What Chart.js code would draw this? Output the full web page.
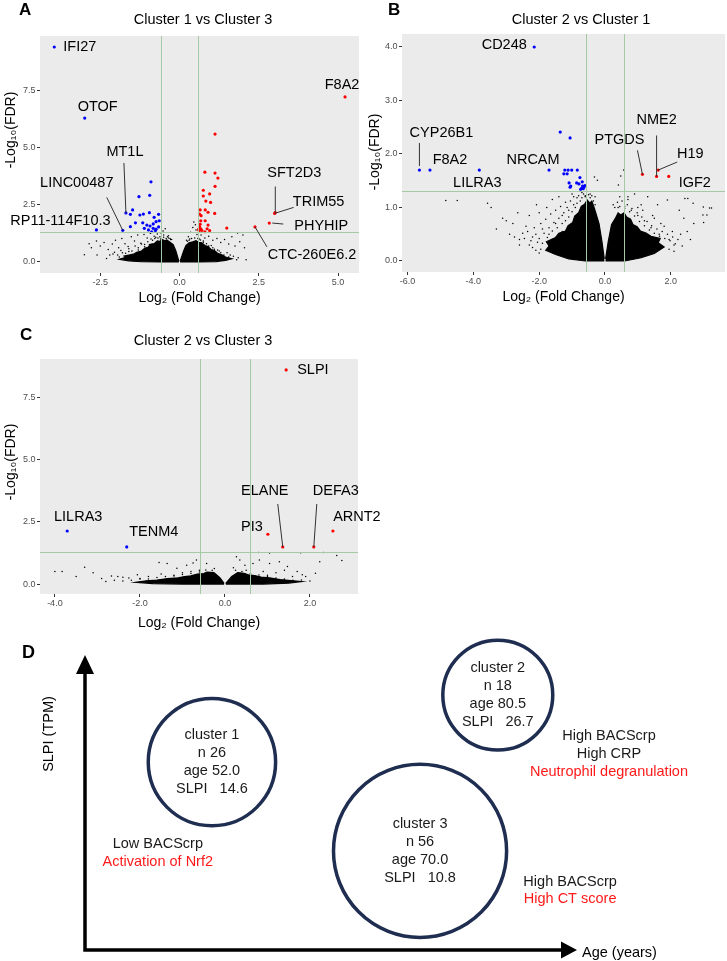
<!DOCTYPE html>
<html>
<head>
<meta charset="utf-8">
<title>Cluster comparison</title>
<script src="https://cdn.jsdelivr.net/npm/chart.js@4.4.1/dist/chart.umd.min.js"></script>
<style>
  html, body { margin: 0; padding: 0; background: #fff; }
  #fig { position: relative; width: 727px; height: 961px; }
  #fig canvas { position: absolute; left: 0; top: 0; }
</style>
</head>
<body>
<div id="fig">
  <canvas id="volA" width="727" height="961"></canvas>
  <canvas id="volB" width="727" height="961"></canvas>
  <canvas id="volC" width="727" height="961"></canvas>
  <canvas id="schemD" width="727" height="961"></canvas>
</div>
<script>
const FONT = '"Liberation Sans", Arial, Helvetica, sans-serif';
Chart.defaults.font.family = FONT;

// cut-offs used in all three volcano plots
const fcCut = 0.585;   // log2(1.5)
const fdrCut = 1.301;  // -log10(0.05)

// ---- A: Cluster 1 vs Cluster 3 ----
const genesA = ['IFI27', 'OTOF', 'MT1L', 'LINC00487', 'RP11-114F10.3', 'F8A2', 'SFT2D3', 'TRIM55', 'PHYHIP', 'CTC-260E6.2'];
const fcA = [-3.95, -2.99, -1.69, -1.79, -2.62, 5.22, 3.02, 3.0, 2.83, 2.38];
const fdrA = [9.38, 6.28, 2.14, 1.38, 1.40, 7.2, 2.16, 2.12, 1.70, 1.53];
const upA = [[1.12,5.58],[0.80,3.92],[1.12,3.88],[1.21,3.66],[1.12,3.30],[0.75,3.13],[0.95,2.97],[0.75,2.88],
  [0.83,2.66],[0.98,2.60],[0.65,2.27],[0.81,2.27],[0.90,2.17],[1.11,2.12],[0.63,2.09],[0.68,2.02],[0.67,1.80],
  [0.81,1.80],[0.90,1.61],[0.63,1.54],[0.67,1.45],[0.80,1.32],[0.95,1.37],[1.49,1.48],[0.65,1.65],[0.70,1.38],
  [0.87,1.45],[0.62,1.36],[0.60,1.42]];
const downA = [[-0.90,3.50],[-1.28,2.85],[-0.94,2.91],[-1.48,2.27],[-1.55,2.08],[-1.25,2.05],[-1.14,2.09],
  [-0.95,2.15],[-0.80,1.95],[-0.66,2.08],[-1.39,1.71],[-1.55,1.54],[-1.16,1.71],[-1.03,1.61],[-0.93,1.57],
  [-0.83,1.66],[-0.74,1.76],[-0.64,1.80],[-1.11,1.47],[-0.83,1.47],[-0.74,1.43],[-0.66,1.53],[-0.88,1.32],
  [-0.76,1.37],[-0.98,1.40]];
const restA = [[-2.85,0.80],[-2.78,0.62],[-2.62,0.92],[-2.50,0.70],[-2.38,0.85],[-2.25,0.55],[-2.12,0.78],
  [-2.02,0.95],[-1.92,0.62],[-1.82,1.02],[-1.72,0.80],[-1.62,0.68],[-1.52,1.10],[-1.42,0.92],[-1.32,1.18],
  [-1.22,0.82],[-1.12,1.20],[-1.02,1.05],[-0.92,1.25],[-0.80,1.12],[-0.70,1.22],[-0.60,1.28],[-0.52,1.35],
  [-0.45,1.45],[-0.50,1.18],[-0.38,1.10],[-0.30,1.02],[0.28,1.10],[0.35,1.30],[0.42,1.50],[0.50,1.62],
  [0.45,1.75],[0.52,1.40],[0.55,1.20],[0.68,1.18],[0.80,1.05],[0.92,1.12],[1.05,0.95],[1.18,1.02],[1.30,0.85],
  [1.42,0.98],[1.55,0.78],[1.65,1.10],[1.75,0.70],[1.83,1.26],[1.90,0.88],[2.00,1.18],[2.05,0.62],[-1.50,0.30],
  [-1.90,0.22],[1.60,0.30],[1.85,0.18],[-2.30,0.15],[2.10,0.10],[-0.90,1.00],[-0.75,1.08],[-0.62,1.10],
  [-0.35,1.15],[-0.25,0.98],[0.22,0.95],[0.32,1.00],[0.62,1.00],[0.75,0.92],[1.05,0.62],[1.25,0.48],
  [1.50,0.40],[-1.30,0.62],[-1.60,0.46],[-1.10,0.76],[-2.10,0.35],[-1.80,0.40],[-2.60,0.30],[-3.00,0.32],
  [-2.20,0.30],[-2.05,0.42],[-1.95,0.30],[-1.85,0.50],[-1.70,0.38],[-1.60,0.58],[-1.50,0.48],[-1.40,0.70],
  [-1.30,0.52],[-1.20,0.78],[-1.10,0.66],[-1.00,0.88],[-0.95,0.76],[-0.85,0.95],[-0.78,1.02],[-0.68,1.05],
  [-0.60,1.00],[-0.50,1.08],[-0.42,1.02],[-0.35,1.05],[-0.28,0.98],[0.25,0.90],[0.30,0.95],[0.38,1.02],
  [0.48,1.05],[0.58,1.02],[0.66,0.96],[0.75,0.86],[0.85,0.80],[0.92,0.70],[1.00,0.72],[1.10,0.56],[1.20,0.52],
  [1.30,0.40],[1.40,0.30],[1.55,0.22],[1.70,0.25],[1.80,0.10]];
const cloudLeftA = [[-0.02,0],[-0.6,0],[-1.2,0.01],[-1.6,0.05],[-1.9,0.12],[-1.7,0.2],[-1.75,0.26],[-1.45,0.34],
  [-1.35,0.42],[-1.2,0.48],[-1.1,0.6],[-1.0,0.64],[-0.9,0.78],[-0.8,0.8],[-0.7,0.92],[-0.62,0.9],[-0.55,0.98],
  [-0.46,0.92],[-0.4,0.96],[-0.3,0.86],[-0.2,0.76],[-0.12,0.5],[-0.06,0.22],[-0.02,0.03]];
const cloudRightA = [[0.02,0],[0.6,0],[1.15,0.02],[1.45,0.07],[1.65,0.14],[1.45,0.22],[1.35,0.3],[1.2,0.38],
  [1.1,0.5],[1.0,0.54],[0.9,0.68],[0.8,0.72],[0.7,0.84],[0.6,0.86],[0.52,0.93],[0.42,0.88],[0.3,0.84],[0.2,0.72],
  [0.13,0.48],[0.06,0.2],[0.02,0.03]];
const xTicksA = [-2.5, 0, 2.5, 5];
const yTicksA = [0, 2.5, 5, 7.5];

// ---- B: Cluster 2 vs Cluster 1 ----
const genesB = ['CD248', 'CYP26B1', 'F8A2', 'LILRA3', 'NRCAM', 'PTGDS', 'NME2', 'H19', 'IGF2'];
const fcB = [-2.15, -5.64, -5.32, -3.82, -1.70, 1.14, 1.57, 1.62, 1.94];
const fdrB = [4.0, 1.70, 1.70, 1.70, 1.70, 1.62, 1.58, 1.70, 1.58];
const upB = [];
const downB = [[-1.36,2.41],[-1.06,2.30],[-1.22,1.70],[-1.12,1.70],[-1.01,1.70],[-0.84,1.70],[-1.25,1.63],
  [-1.15,1.63],[-0.76,1.56],[-1.09,1.46],[-1.04,1.40],[-0.86,1.46],[-0.69,1.48],[-0.64,1.38],[-0.71,1.36],
  [-0.79,1.44],[-0.68,1.40],[-0.61,1.41],[-1.06,1.38],[-0.66,1.35],[-0.74,1.34]];
const restB = [[-4.84,1.13],[-4.49,1.13],[-3.57,1.08],[-3.46,1.00],[-3.11,0.80],[-3.00,0.75],[-2.80,0.70],
  [-2.50,0.52],[-2.40,0.65],[-2.20,0.45],[-2.08,1.05],[-2.00,0.90],[-1.77,1.00],[-2.65,0.90],[-2.30,0.85],
  [-1.90,0.60],[-2.05,0.35],[-2.30,0.30],[-1.60,1.15],[-1.40,1.20],[-1.20,1.10],[-1.00,1.25],[-0.85,1.18],
  [-0.70,1.28],[-0.32,1.57],[-0.23,1.51],[0.48,1.59],[0.41,1.42],[0.57,1.70],[0.45,1.20],[0.70,1.15],
  [0.90,1.25],[1.10,1.05],[1.30,1.20],[1.50,0.80],[1.60,1.05],[1.80,0.65],[1.90,1.14],[2.05,0.55],[2.26,0.95],
  [2.40,0.80],[2.43,1.17],[2.52,1.17],[2.68,1.08],[2.98,0.86],[3.00,0.72],[2.99,1.01],[3.10,0.86],[3.18,0.99],
  [3.24,0.99],[-1.50,0.70],[-1.30,0.85],[-1.70,0.50],[-2.10,0.20],[-1.10,0.95],[-0.95,1.05],[-0.60,1.22],
  [-0.45,1.25],[-0.30,1.20],[0.25,1.05],[0.40,1.00],[0.60,1.02],[0.80,0.95],[1.00,0.85],[1.20,0.75],[1.40,0.62],
  [1.65,0.50],[1.95,0.40],[2.10,0.30],[2.30,0.50],[2.60,0.40],[-2.60,0.40],[-2.90,0.50],[-3.30,0.60],
  [-2.45,0.42],[-2.35,0.55],[-2.25,0.38],[-2.15,0.62],[-2.10,0.50],[-2.00,0.42],[-1.95,0.70],[-1.90,0.33],
  [-1.85,0.52],[-1.80,0.78],[-1.75,0.44],[-1.70,0.62],[-1.65,0.88],[-1.60,0.56],[-1.55,0.72],[-1.50,0.95],
  [-1.45,0.62],[-1.40,0.80],[-1.35,1.02],[-1.30,0.70],[-1.25,0.90],[-1.20,0.75],[-1.15,1.00],[-1.10,0.82],
  [-1.05,1.12],[-1.00,0.92],[-0.95,1.20],[-0.90,1.00],[-0.85,1.08],[-0.80,1.22],[-0.75,1.12],[-0.70,1.18],
  [-0.65,1.25],[-0.60,1.20],[-0.55,1.30],[-0.50,1.24],[-0.45,1.18],[-0.40,1.22],[-0.35,1.12],[-0.30,1.05],
  [-2.20,0.25],[-2.00,0.15],[-1.95,0.22],[-2.60,0.30],[-2.75,0.45],[-1.30,0.55],[-1.60,0.40],
  [0.30,1.00],[0.38,1.10],[0.45,1.02],[0.52,1.12],[0.60,0.98],[0.68,1.05],[0.75,0.92],[0.82,0.98],[0.90,0.84],
  [0.98,0.90],[1.05,0.74],[1.12,0.82],[1.20,0.66],[1.28,0.74],[1.35,0.58],[1.42,0.66],[1.50,0.52],[1.58,0.60],
  [1.66,0.46],[1.74,0.55],[1.82,0.42],[1.90,0.50],[1.98,0.38],[2.06,0.45],[2.14,0.32],[2.22,0.40],[2.35,0.28],
  [1.95,0.22],[2.10,0.18],[1.00,1.00],[1.15,0.95],[0.70,1.20],[1.45,0.85],[1.70,0.70],[2.50,0.55],[2.70,0.70]];
const cloudLeftB = [[-0.02,0],[-0.6,0],[-1.1,0.04],[-1.5,0.12],[-1.8,0.2],[-1.7,0.28],[-1.78,0.36],[-1.5,0.44],
  [-1.4,0.52],[-1.2,0.56],[-1.12,0.66],[-0.98,0.72],[-0.92,0.84],[-0.8,0.9],[-0.72,1.02],[-0.62,1.06],[-0.54,1.14],
  [-0.46,1.08],[-0.4,1.12],[-0.32,0.98],[-0.18,0.7],[-0.09,0.36],[-0.02,0.04]];
const cloudRightB = [[0.02,0],[0.6,0],[1.1,0.06],[1.5,0.14],[1.8,0.26],[1.62,0.34],[1.68,0.42],[1.4,0.46],[1.25,0.52],
  [1.08,0.56],[0.98,0.64],[0.85,0.68],[0.78,0.78],[0.66,0.82],[0.58,0.9],[0.48,0.86],[0.4,0.9],[0.32,0.8],
  [0.2,0.68],[0.1,0.36],[0.02,0.04]];
const xTicksB = [-6, -4, -2, 0, 2];
const yTicksB = [0, 1, 2, 3, 4];

// ---- C: Cluster 2 vs Cluster 3 ----
const genesC = ['SLPI', 'LILRA3', 'TENM4', 'PI3', 'ELANE', 'DEFA3', 'ARNT2'];
const fcC = [1.44, -3.71, -2.31, 1.01, 1.36, 2.09, 2.54];
const fdrC = [8.6, 2.13, 1.49, 2.0, 1.49, 1.49, 2.13];
const upC = [];
const downC = [];
const restC = [[-4.0,0.5],[-3.83,0.5],[-3.3,0.67],[-3.1,0.45],[-2.67,0.32],[-2.52,0.3],[-2.4,0.27],[-2.26,0.24],
  [-2.06,0.37],[-1.55,0.87],[-1.36,0.83],[-1.13,0.63],[-0.9,0.75],[-0.75,0.85],[-0.67,0.97],[-0.43,0.83],
  [0.27,1.1],[0.35,0.97],[0.47,0.75],[0.66,0.83],[0.81,0.97],[1.05,0.83],[1.28,0.9],[1.47,0.7],[1.59,0.3],
  [1.82,0.37],[1.9,0.3],[2.13,0.43],[2.23,0.9],[1.78,1.26],[2.32,1.27],[2.63,1.15],[2.75,0.95],[0.79,1.27],
  [1.05,1.25],[-0.6,0.55],[-1.0,0.45],[-1.5,0.4],[-1.8,0.3],[0.5,0.55],[0.9,0.5],[1.2,0.45],[1.4,0.55],
  [-0.25,0.62],[0.2,0.65],[-2.0,0.2],[-2.9,0.22],[-3.5,0.3],[1.7,0.5],[-1.2,0.35],[-0.8,0.5],[0.6,0.42],[1.0,0.35],
  [-2.4,0.12],[-2.2,0.15],[-2.0,0.22],[-1.8,0.2],[-1.6,0.26],[-1.4,0.3],[-1.2,0.32],[-1.0,0.38],[-0.8,0.42],
  [-0.6,0.48],[-0.45,0.56],[-0.3,0.55],[0.25,0.55],[0.4,0.5],[0.6,0.42],[0.8,0.36],[1.0,0.3],[1.2,0.24],
  [1.4,0.2],[1.6,0.15],[1.8,0.16],[2.0,0.12],[-2.6,0.15],[-2.8,0.1]];
const cloudLeftC = [[-0.02,0],[-1.0,0],[-1.7,0.02],[-2.1,0.07],[-1.85,0.13],[-1.6,0.16],[-1.35,0.22],[-1.1,0.25],
  [-0.95,0.3],[-0.8,0.33],[-0.65,0.4],[-0.5,0.42],[-0.42,0.48],[-0.26,0.46],[-0.12,0.26],[-0.02,0.03]];
const cloudRightC = [[0.02,0],[0.9,0],[1.5,0.04],[1.8,0.1],[1.55,0.14],[1.3,0.18],[1.05,0.25],[0.85,0.28],
  [0.7,0.34],[0.55,0.37],[0.45,0.43],[0.3,0.46],[0.16,0.3],[0.02,0.03]];
const xTicksC = [-4, -2, 0, 2];
const yTicksC = [0, 2.5, 5, 7.5];

// ---- D: cluster summary ----
const clusterNames = ['cluster 1', 'cluster 2', 'cluster 3'];
const clusterN = [26, 18, 56];
const clusterAge = [52.0, 80.5, 70.0];
const clusterSLPI = [14.6, 26.7, 10.8];
const schematicX = [25.8, 83.9, 68.1];
const schematicY = [63.7, 86.4, 33.6];
const noteText = ['Low BACScrp', 'Activation of Nrf2', 'High BACScrp', 'High CRP', 'Neutrophil degranulation', 'High BACScrp', 'High CT score'];
const noteRed = [false, true, false, false, true, false, true];

// label placement (pixel offsets from the point)
const labelsA = {
  'IFI27': { dx: 9, dy: 0, align: 'left' },
  'OTOF': { dx: 13, dy: -11 },
  'MT1L': { dx: -1, dy: -61, line: [-2, -50] },
  'LINC00487': { dx: -46, dy: -47, line: [-16, -33] },
  'RP11-114F10.3': { dx: -36, dy: -9 },
  'F8A2': { dx: -3, dy: -12 },
  'SFT2D3': { dx: 19, dy: -39, line: [0, -26] },
  'TRIM55': { dx: 44, dy: -11, line: [19, -6] },
  'PHYHIP': { dx: 52, dy: 3, line: [14, 1], end: [3, 0] },
  'CTC-260E6.2': { dx: 57, dy: 28, line: [12, 20] },
};
const labelsB = {
  'CD248': { dx: -30, dy: -2 },
  'CYP26B1': { dx: 22, dy: -37, line: [0, -27], end: [0, -4] },
  'F8A2': { dx: 20, dy: -10 },
  'LILRA3': { dx: -2, dy: 13 },
  'NRCAM': { dx: -16, dy: -10 },
  'PTGDS': { dx: -23, dy: -34, line: [-5, -24] },
  'NME2': { dx: 0, dy: -56, line: [0, -41] },
  'H19': { dx: 32, dy: -16, line: [19, -8] },
  'IGF2': { dx: 26, dy: 7 },
};
const labelsC = {
  'SLPI': { dx: 11, dy: 0, align: 'left' },
  'LILRA3': { dx: 11, dy: -14 },
  'TENM4': { dx: 27, dy: -15 },
  'PI3': { dx: -16, dy: -7 },
  'ELANE': { dx: -18, dy: -56, line: [-5, -43] },
  'DEFA3': { dx: 22, dy: -56, line: [3, -43] },
  'ARNT2': { dx: 24, dy: -14 },
};
// note anchors in schematic axis units (0-100)
const noteAt = [[14.8, 35.9], [14.8, 29.8], [106.5, 72.5], [106.5, 66.4], [106.5, 60.3], [98.6, 23.1], [98.6, 17.3]];

function decor(p) {
  return {
    id: 'decor',
    beforeDraw(chart) {
      const { ctx, chartArea: a } = chart;
      ctx.save();
      ctx.fillStyle = '#ebebeb';
      ctx.fillRect(a.left, a.top, a.right - a.left, a.bottom - a.top);
      ctx.restore();
    },
    afterDatasetsDraw(chart) {
      const { ctx, chartArea: a, scales: { x, y } } = chart;
      ctx.save();
      ctx.strokeStyle = '#a5c9a5';
      ctx.lineWidth = 1;
      ctx.beginPath();
      [-fcCut, fcCut].forEach(v => {
        const px = Math.round(x.getPixelForValue(v)) + 0.5;
        ctx.moveTo(px, a.top); ctx.lineTo(px, a.bottom);
      });
      const py = Math.round(y.getPixelForValue(fdrCut)) + 0.5;
      ctx.moveTo(a.left, py); ctx.lineTo(a.right, py);
      ctx.stroke();
      ctx.restore();
    },
    afterDraw(chart) {
      const { ctx, scales: { x, y } } = chart;
      ctx.save();
      ctx.fillStyle = '#000';
      ctx.font = 'bold 17px ' + FONT;
      ctx.textAlign = 'left';
      ctx.textBaseline = 'alphabetic';
      ctx.fillText(p.letter, p.letterAt[0], p.letterAt[1]);

      ctx.font = '14.5px ' + FONT;
      ctx.textAlign = 'center';
      ctx.textBaseline = 'middle';
      ctx.fillText(p.title, p.titleAt[0], p.titleAt[1]);

      ctx.save();
      ctx.translate(p.yTitleAt[0], p.yTitleAt[1]);
      ctx.rotate(-Math.PI / 2);
      ctx.font = '14px ' + FONT;
      ctx.fillText('-Log₁₀(FDR)', 0, 0);
      ctx.restore();

      ctx.strokeStyle = '#333';
      ctx.lineWidth = 1;
      p.genes.forEach((g, i) => {
        const L = p.labels[g];
        const px = x.getPixelForValue(p.fc[i]);
        const py = y.getPixelForValue(p.fdr[i]);
        if (L.line) {
          const e = L.end || [0, 0];
          ctx.beginPath();
          ctx.moveTo(px + L.line[0], py + L.line[1]);
          ctx.lineTo(px + e[0], py + e[1]);
          ctx.stroke();
        }
        ctx.textAlign = L.align || 'center';
        ctx.fillText(g, px + L.dx, py + L.dy);
      });
      ctx.restore();
    },
  };
}

function volcano(id, p) {
  const named = p.genes.map((g, i) => [p.fc[i], p.fdr[i]]);
  const dots = (data, color, r) => ({ data, pointRadius: r, pointBackgroundColor: color, pointBorderWidth: 0 });
  const blob = data => ({ data, showLine: true, fill: 'shape', tension: 0, borderWidth: 1.2,
    borderColor: '#000', backgroundColor: '#000', pointRadius: 0 });
  const axis = (ticks, range, fit, title) => ({
    type: 'linear', min: range[0], max: range[1],
    afterBuildTicks: s => { s.ticks = ticks.map(value => ({ value })); },
    afterFit: fit,
    ticks: { autoSkip: false, maxRotation: 0, padding: 1.5, color: '#4d4d4d', font: { size: 9 },
      callback: v => v.toFixed(1) },
    grid: { drawOnChartArea: false, tickLength: 3, color: '#333' },
    border: { display: false },
    title,
  });
  return new Chart(document.getElementById(id), {
    type: 'scatter',
    data: {
      datasets: [
        dots(p.up.concat(named.filter(d => d[0] > 0)), '#ff0000', 1.6),
        dots(p.down.concat(named.filter(d => d[0] < 0)), '#0000ff', 1.6),
        dots(p.rest, '#000', 0.75),
        blob(p.cloudL),
        blob(p.cloudR),
      ],
    },
    options: {
      responsive: false, animation: false, events: [],
      layout: { padding: p.pad, autoPadding: false },
      plugins: { legend: { display: false }, tooltip: { enabled: false } },
      scales: {
        x: axis(p.xTicks, p.xRange, s => { s.height = p.xBox; },
          { display: true, text: 'Log₂ (Fold Change)', color: '#000', font: { size: 14 }, padding: 0 }),
        y: axis(p.yTicks, p.yRange, s => { s.width = 40; }, { display: false }),
      },
    },
    plugins: [decor(p)],
  });
}

volcano('volA', {
  letter: 'A', letterAt: [19, 15], title: 'Cluster 1 vs Cluster 3', titleAt: [203, 20], yTitleAt: [11, 130],
  genes: genesA, fc: fcA, fdr: fdrA, up: upA, down: downA, rest: restA, cloudL: cloudLeftA, cloudR: cloudRightA,
  xTicks: xTicksA, yTicks: yTicksA, xRange: [-4.40, 5.66], yRange: [-0.48, 9.86],
  pad: { left: 0, right: 368, top: 36, bottom: 654 }, xBox: 34, labels: labelsA,
});
volcano('volB', {
  letter: 'B', letterAt: [388, 15], title: 'Cluster 2 vs Cluster 1', titleAt: [581, 20], yTitleAt: [375, 152],
  genes: genesB, fc: fcB, fdr: fdrB, up: upB, down: downB, rest: restB, cloudL: cloudLeftB, cloudR: cloudRightB,
  xTicks: xTicksB, yTicks: yTicksB, xRange: [-6.17, 3.65], yRange: [-0.206, 4.243],
  pad: { left: 362, right: 2, top: 34, bottom: 655 }, xBox: 34, labels: labelsB,
});
volcano('volC', {
  letter: 'C', letterAt: [20, 340], title: 'Cluster 2 vs Cluster 3', titleAt: [203, 341], yTitleAt: [11, 462],
  genes: genesC, fc: fcC, fdr: fdrC, up: upC, down: downC, rest: restC, cloudL: cloudLeftC, cloudR: cloudRightC,
  xTicks: xTicksC, yTicks: yTicksC, xRange: [-4.35, 3.13], yRange: [-0.40, 9.04],
  pad: { left: 0, right: 369, top: 359, bottom: 329 }, xBox: 38, labels: labelsC,
});

// ---- panel D ----
const schematic = {
  id: 'schematic',
  afterDatasetsDraw(chart) {
    const { ctx, chartArea: a, scales: { x, y } } = chart;
    const meta = chart.getDatasetMeta(0);
    ctx.save();
    ctx.strokeStyle = '#000';
    ctx.fillStyle = '#000';
    ctx.lineWidth = 3.5;
    ctx.beginPath();
    ctx.moveTo(a.left, a.top + 16);
    ctx.lineTo(a.left, a.bottom);
    ctx.lineTo(a.right - 14, a.bottom);
    ctx.stroke();
    ctx.beginPath();
    ctx.moveTo(a.right, a.bottom);
    ctx.lineTo(a.right - 16, a.bottom - 8.5);
    ctx.lineTo(a.right - 16, a.bottom + 8.5);
    ctx.closePath();
    ctx.moveTo(a.left, a.top);
    ctx.lineTo(a.left - 9, a.top + 19);
    ctx.lineTo(a.left + 9, a.top + 19);
    ctx.closePath();
    ctx.fill();

    ctx.font = 'bold 18px ' + FONT;
    ctx.textAlign = 'left';
    ctx.textBaseline = 'alphabetic';
    ctx.fillText('D', 22, 658);

    ctx.font = '14.5px ' + FONT;
    ctx.textBaseline = 'middle';
    ctx.fillText('Age (years)', a.right + 5, a.bottom + 3);
    ctx.save();
    ctx.translate(a.left - 36, 734);
    ctx.rotate(-Math.PI / 2);
    ctx.textAlign = 'center';
    ctx.fillText('SLPI (TPM)', 0, 0);
    ctx.restore();

    ctx.textAlign = 'center';
    ctx.fillStyle = '#1a1a1a';
    meta.data.forEach((el, i) => {
      const lines = [clusterNames[i], 'n ' + clusterN[i], 'age ' + clusterAge[i].toFixed(1),
        'SLPI   ' + clusterSLPI[i].toFixed(1)];
      lines.forEach((t, k) => ctx.fillText(t, el.x, el.y + (k - 1.5) * 18));
    });

    noteText.forEach((t, i) => {
      ctx.fillStyle = noteRed[i] ? '#ff1a1a' : '#1a1a1a';
      ctx.fillText(t, x.getPixelForValue(noteAt[i][0]), y.getPixelForValue(noteAt[i][1]));
    });
    ctx.restore();
  },
};

new Chart(document.getElementById('schemD'), {
  type: 'bubble',
  data: {
    datasets: [{
      data: clusterNames.map((c, i) => ({ x: schematicX[i], y: schematicY[i], r: 17.3 * Math.pow(clusterN[i], 0.4) })),
      backgroundColor: 'rgba(255,255,255,0)',
      borderColor: '#1e2d50',
      borderWidth: 3.5,
      clip: false,
    }],
  },
  options: {
    responsive: false, animation: false, events: [],
    layout: { padding: { left: 85, right: 150, top: 655, bottom: 11 }, autoPadding: false },
    plugins: { legend: { display: false }, tooltip: { enabled: false } },
    scales: {
      x: { display: false, min: 0, max: 100 },
      y: { display: false, min: 0, max: 100 },
    },
  },
  plugins: [schematic],
});
</script>
</body>
</html>
